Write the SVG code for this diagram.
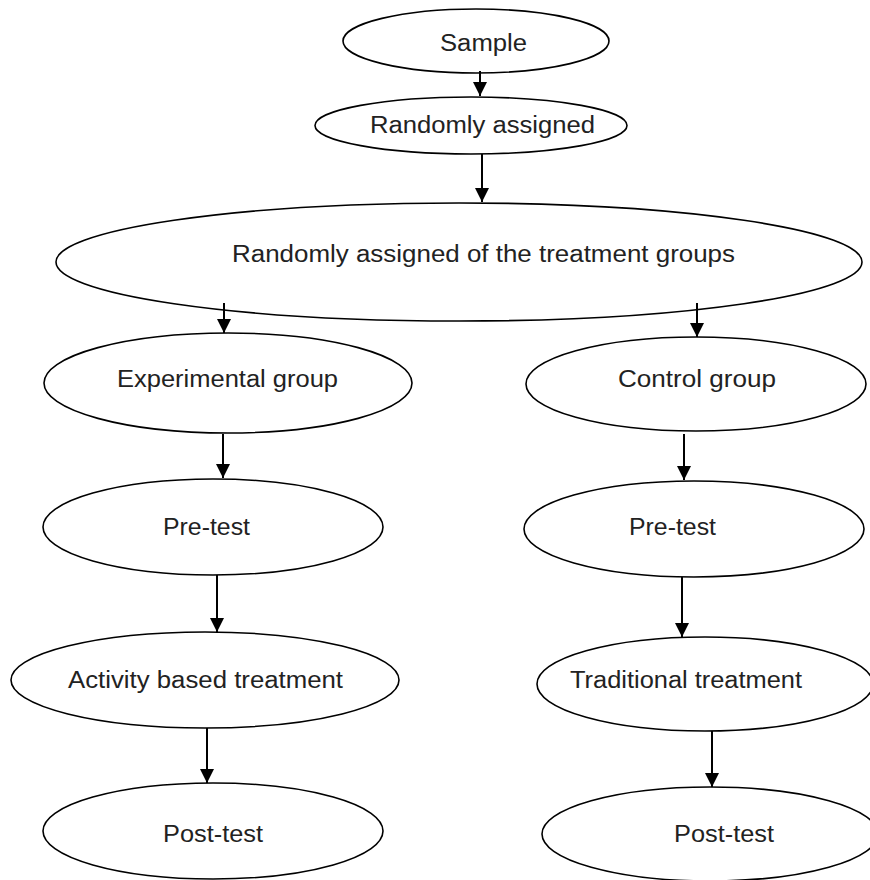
<svg xmlns="http://www.w3.org/2000/svg" width="870" height="880" viewBox="0 0 870 880">
<style>
.n ellipse{fill:#fff;stroke:#000;stroke-width:1.6}
.n text{font-family:"Liberation Sans",Arial,sans-serif;font-size:23px;fill:#222}
.c line{stroke:#000;stroke-width:2;marker-end:url(#ah)}
</style>
<defs>
<marker id="ah" viewBox="0 0 14 14" refX="14" refY="7" markerWidth="14" markerHeight="14" markerUnits="userSpaceOnUse" orient="auto">
<path d="M0,0 L14,7 L0,14 z" fill="#000"/>
</marker>
</defs>
<rect width="870" height="880" fill="#fff"/>
<g id="n-sample" class="n"><ellipse cx="476" cy="41" rx="133" ry="32"/><text x="440" y="51" textLength="87" lengthAdjust="spacingAndGlyphs">Sample</text></g>
<g id="n-random" class="n"><ellipse cx="471" cy="125.5" rx="156" ry="28.5"/><text x="370" y="133" textLength="225" lengthAdjust="spacingAndGlyphs">Randomly assigned</text></g>
<g id="n-groups" class="n"><ellipse cx="459" cy="262" rx="403" ry="59"/><text x="232" y="262" textLength="503" lengthAdjust="spacingAndGlyphs">Randomly assigned of the treatment groups</text></g>
<g id="n-exp" class="n"><ellipse cx="228" cy="383" rx="184" ry="50"/><text x="117" y="387" textLength="221" lengthAdjust="spacingAndGlyphs">Experimental group</text></g>
<g id="n-ctrl" class="n"><ellipse cx="696" cy="384" rx="170" ry="47"/><text x="618" y="387" textLength="158" lengthAdjust="spacingAndGlyphs">Control group</text></g>
<g id="n-pre-l" class="n"><ellipse cx="213" cy="527" rx="170" ry="48"/><text x="163" y="535" textLength="87" lengthAdjust="spacingAndGlyphs">Pre-test</text></g>
<g id="n-pre-r" class="n"><ellipse cx="694" cy="529" rx="170" ry="48"/><text x="629" y="535" textLength="87" lengthAdjust="spacingAndGlyphs">Pre-test</text></g>
<g id="n-act" class="n"><ellipse cx="205" cy="680" rx="194" ry="48"/><text x="68" y="688" textLength="275" lengthAdjust="spacingAndGlyphs">Activity based treatment</text></g>
<g id="n-trad" class="n"><ellipse cx="705" cy="684" rx="168" ry="47"/><text x="570" y="688" textLength="232" lengthAdjust="spacingAndGlyphs">Traditional treatment</text></g>
<g id="n-post-l" class="n"><ellipse cx="213" cy="831" rx="170" ry="48"/><text x="163" y="842" textLength="100" lengthAdjust="spacingAndGlyphs">Post-test</text></g>
<g id="n-post-r" class="n"><ellipse cx="710" cy="834" rx="168" ry="47"/><text x="674" y="842" textLength="100" lengthAdjust="spacingAndGlyphs">Post-test</text></g>
<g id="connectors" class="c">
<line x1="480" y1="71" x2="480" y2="96"/>
<line x1="482" y1="154" x2="482" y2="202"/>
<line x1="224" y1="303" x2="224" y2="333"/>
<line x1="697" y1="303" x2="697" y2="337"/>
<line x1="223" y1="434" x2="223" y2="478"/>
<line x1="684" y1="434" x2="684" y2="480"/>
<line x1="217" y1="575" x2="217" y2="632"/>
<line x1="682" y1="577" x2="682" y2="637"/>
<line x1="207" y1="728" x2="207" y2="783"/>
<line x1="712" y1="731" x2="712" y2="787"/>
</g>
</svg>
